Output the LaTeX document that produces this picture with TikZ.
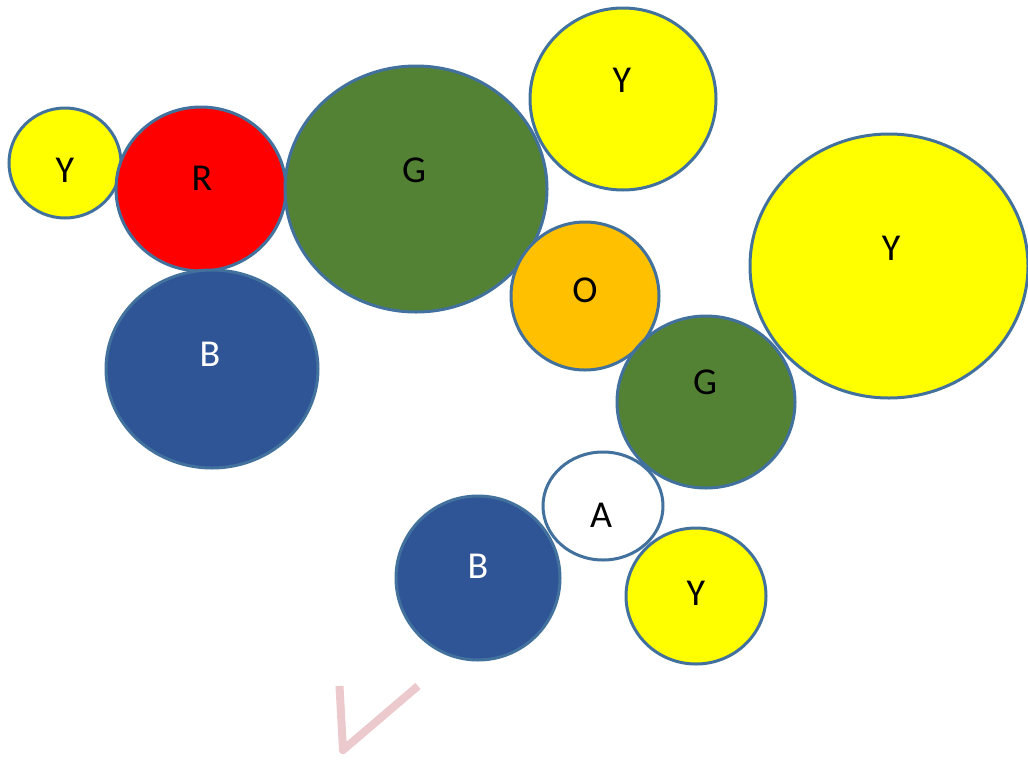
\documentclass[tikz,border=0pt]{standalone}
\usepackage{fontspec}
\setmainfont{Carlito}
\usetikzlibrary{shapes.geometric}
\definecolor{outl}{HTML}{41719C}
\definecolor{gr}{HTML}{548235}
\definecolor{bl}{HTML}{2F5597}
\definecolor{ye}{HTML}{FFFF00}
\definecolor{rd}{HTML}{FF0000}
\definecolor{og}{HTML}{FFC000}
\definecolor{pk}{HTML}{EBC9CC}
\tikzset{
  ball/.style={draw=outl, line width=3pt, ellipse, inner sep=0pt},
  lbl/.style={font=\fontsize{38}{40}\selectfont, text=black, inner sep=0pt},
  wlbl/.style={lbl, text=white},
}
\begin{document}
\begin{tikzpicture}[x=1pt,y=-1pt]
\useasboundingbox (0,0) rectangle (1028,761);
\node[ball, fill=ye, minimum width=112pt, minimum height=110pt] (y1) at (65,163) {};
\node[ball, fill=rd, minimum width=170pt, minimum height=164pt] (r) at (201,189) {};
\node[ball, fill=bl, minimum width=212pt, minimum height=198pt] (b1) at (212,369) {};
\node[ball, fill=gr, minimum width=262pt, minimum height=246pt] (g1) at (416,189) {};
\node[ball, fill=ye, minimum width=186pt, minimum height=182pt] (y2) at (623,99) {};
\node[ball, fill=ye, minimum width=278pt, minimum height=264pt] (y3) at (889,266) {};
\node[ball, fill=og, minimum width=148pt, minimum height=148pt] (o) at (585,296) {};
\node[ball, fill=gr, minimum width=178pt, minimum height=172pt] (g2) at (706,402) {};
\node[ball, fill=white, minimum width=120pt, minimum height=108pt] (a) at (603,506) {};
\node[ball, fill=bl, minimum width=164pt, minimum height=164pt] (b2) at (478,578) {};
\node[ball, fill=ye, minimum width=140pt, minimum height=136pt] (y4) at (696,596) {};
\node[lbl] (ty1) at (65,170) {Y};
\node[lbl] (tr) at (202,178) {R};
\node[wlbl] (tb1) at (210,354) {B};
\node[lbl] (tg1) at (414,170) {G};
\node[lbl] (ty2) at (622,80) {Y};
\node[lbl] (ty3) at (891,248) {Y};
\node[lbl] (to) at (585,290) {O};
\node[lbl] (tg2) at (705,382) {G};
\node[lbl] (ta) at (601,515) {A};
\node[wlbl] (tb2) at (478,566) {B};
\node[lbl] (ty4) at (696,593) {Y};
\coordinate (c1) at (339.5,686);
\coordinate (c2) at (343,750);
\coordinate (c3) at (418,686);
\draw[pk, line width=8pt, line join=round] (c1) -- (c2) -- (c3);
\fill[pk] (c2) circle (4pt);
\end{tikzpicture}
\end{document}
